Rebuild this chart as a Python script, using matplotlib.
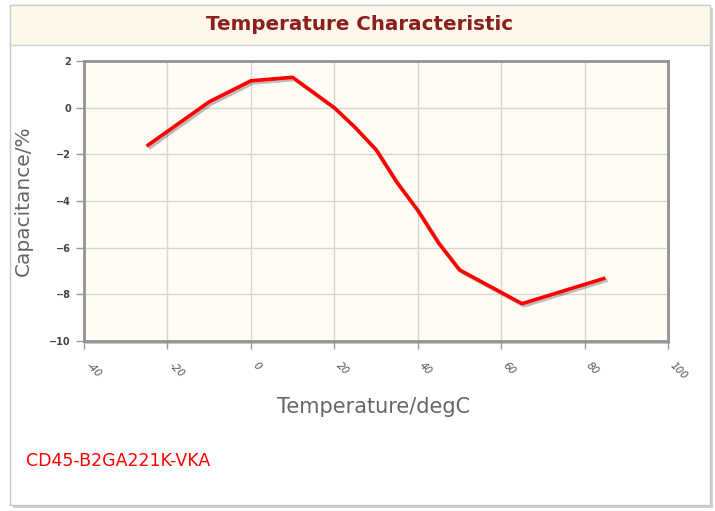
import matplotlib
matplotlib.use("Agg")
import matplotlib.pyplot as plt
from matplotlib.patches import Rectangle
import matplotlib.patheffects as pe

temperature = [-25, -10, 0, 10, 15, 20, 25, 30, 35, 40, 45, 50, 65, 85]
capacitance = [-1.65, 0.25, 1.15, 1.3, 0.65, 0.0, -0.85, -1.8, -3.2, -4.4, -5.8, -6.95, -8.4, -7.3]
x_ticks = [-40, -20, 0, 20, 40, 60, 80, 100]
y_ticks = [-10, -8, -6, -4, -2, 0, 2]
title = "Temperature Characteristic"
part_number = "CD45-B2GA221K-VKA"

W, H = 715, 511
fig = plt.figure(figsize=(W / 100, H / 100), dpi=100)
fig.patch.set_facecolor("white")

def fx(px):
    return px / W

def fy(py):
    return 1 - py / H

# outer box with shadow
fig.patches.append(Rectangle((fx(13), fy(508)), fx(700), 500 / H, transform=fig.transFigure,
                             facecolor="#d0d0d0", edgecolor="none", zorder=-3))
fig.patches.append(Rectangle((fx(10), fy(505)), fx(700), 500 / H, transform=fig.transFigure,
                             facecolor="white", edgecolor="#c8c8c8", lw=1, zorder=-2.5))
# title band
fig.patches.append(Rectangle((fx(10), fy(45)), fx(700), 40 / H, transform=fig.transFigure,
                             facecolor="#fdf8ea", edgecolor="#cfcfcf", lw=1, zorder=-2))
fig.text(fx(360), fy(25), title, ha="center", va="center", fontsize=14.3, fontweight="bold",
         color="#8b1f1f", family="DejaVu Sans")

# plot area shadow
fig.patches.append(Rectangle((fx(86), fy(344)), fx(584), 280 / H, transform=fig.transFigure,
                             facecolor="#c4c4c4", edgecolor="none", zorder=-1))

ax = fig.add_axes([fx(84), fy(341), fx(584), 280 / H])
ax.set_zorder(2)
ax.set_facecolor("#fffcf3")
ax.set_xlim(-40, 100)
ax.set_ylim(-10, 2)
ax.set_xticks(x_ticks)
ax.set_yticks(y_ticks)
ax.grid(True, color="#d6d6d6", lw=1)
ax.set_axisbelow(True)
for s in ax.spines.values():
    s.set_color("#939393")
    s.set_linewidth(2)

ax.tick_params(axis="both", direction="out", length=6, width=1, color="#9a9a9a",
               labelcolor="#444444", labelsize=7)
ax.set_xticklabels([str(t) for t in x_ticks], rotation=-45, ha="left", va="top",
                   fontstyle="italic", color="#555555", fontsize=7.5)
for lab in ax.get_yticklabels():
    lab.set_fontweight("bold")
ax.tick_params(axis="x", pad=8)

ax.plot(temperature, capacitance, color="#ff0000", lw=2.6, solid_joinstyle="round",
        solid_capstyle="butt",
        path_effects=[pe.SimpleLineShadow(offset=(1.5, -1.5), shadow_color="#000000", alpha=0.25),
                      pe.Normal()])

fig.text(fx(23), fy(201), "Capacitance/%", rotation=90, ha="center", va="center",
         fontsize=14.5, color="#666666")
fig.text(fx(374), fy(407), "Temperature/degC", ha="center", va="center",
         fontsize=15, color="#666666")
fig.text(fx(26), fy(461), part_number, ha="left", va="center", fontsize=12.5, color="#ff0000")

fig.savefig("out.png", dpi=100, facecolor="white")
